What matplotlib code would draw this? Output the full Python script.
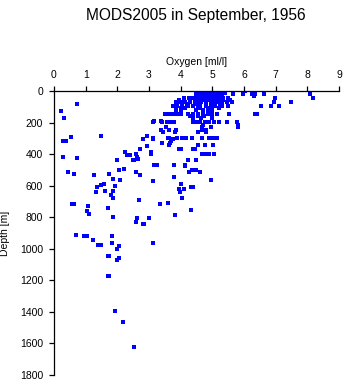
import matplotlib
matplotlib.use("Agg")
import matplotlib.pyplot as plt

plt.rcParams['font.family'] = ['Liberation Sans', 'DejaVu Sans']

title = "MODS2005 in September, 1956"
x_label = "Oxygen [ml/l]"
y_label = "Depth [m]"
x_ticks = [0, 1, 2, 3, 4, 5, 6, 7, 8, 9]
y_ticks = [0, 200, 400, 600, 800, 1000, 1200, 1400, 1600, 1800]

oxygen = [
    4.5, 4.6, 4.7, 4.8, 4.9, 5.0, 5.1, 5.2, 5.3, 5.65, 5.97, 6.03,
    4.55, 4.65, 4.75, 4.85, 4.95, 5.05, 5.15, 5.25, 5.4, 5.96,
    4.5, 4.6, 4.7, 4.8, 4.9, 5.0, 5.1, 5.2, 5.3, 5.64, 5.98, 6.24, 6.35, 6.64, 8.08,
    4.5, 4.62, 4.72, 4.84, 4.95, 5.05, 5.17, 5.27, 6.33,
    4.12, 4.25, 4.4, 4.55, 4.7, 4.85, 4.95, 5.05, 5.15, 5.25, 5.35, 5.5, 6.99, 8.19,
    3.95, 4.1, 4.3, 4.45, 4.6, 4.75, 4.9, 5.05, 5.2, 5.35, 5.55,
    3.85, 3.98, 4.15, 4.3, 4.5, 4.65, 4.8, 5.0, 5.15, 5.3, 5.45, 5.62, 6.95, 7.47,
    0.72, 3.9, 4.05, 4.2, 4.45, 4.6, 4.95, 5.1, 5.25,
    3.77, 3.9, 4.05, 4.22, 4.4, 4.55, 4.8, 4.95, 5.1, 5.3, 5.5, 6.53, 6.86, 7.12,
    3.85, 4.0, 4.15, 4.6, 4.85, 5.0, 5.2,
    3.85, 4.0, 4.5, 4.7, 4.85, 5.0,
    0.23,
    3.5, 3.62, 3.75, 3.9, 4.02, 4.24, 4.4, 4.55, 4.7, 4.85, 5.0, 5.15, 5.54, 6.35, 6.42,
    4.3, 4.55, 4.75,
    0.33, 4.4, 4.65, 5.0,
    3.13, 3.41, 3.58, 3.68, 3.8, 4.4, 4.5, 4.62, 4.78, 4.9, 5.05, 5.2, 5.46, 5.77,
    3.37, 3.17,
    5.8, 4.7,
    3.53, 4.66, 4.96, 5.82,
    3.39, 3.64, 3.84, 4.66, 4.8,
    3.45, 3.83, 4.55, 4.8,
    1.5, 2.93,
    0.53,
    3.13, 3.63, 3.89, 4.03, 4.16, 4.37, 4.66, 4.9, 5.03, 5.16, 3.61,
    2.82, 3.14, 3.77,
    0.29, 0.38, 3.68,
    3.42, 3.66,
    3.62, 4.56, 4.77, 5.03,
    2.95,
    2.73, 3.96, 4.01, 4.4, 4.45,
    2.25, 3.05,
    2.58, 3.06, 4.66, 4.77, 4.82, 4.89, 5.05,
    2.31, 2.4,
    0.29, 2.63,
    0.72,
    2.66,
    2.49, 2.53, 4.23, 4.24, 4.5,
    1.98,
    3.17, 3.24, 3.19,
    3.8, 4.14,
    4.13,
    2.21,
    2.05, 4.35, 4.4, 4.5,
    0.45, 2.58, 4.27, 4.61,
    0.64, 1.75,
    1.27,
    2.73,
    3.8,
    1.85,
    2.09, 4.97,
    3.14,
    1.59, 4.0,
    1.47,
    1.92,
    1.37, 4.32, 4.4,
    3.96, 4.1,
    1.62, 1.85,
    3.99,
    1.34,
    1.79,
    1.87, 4.05,
    2.69,
    3.61,
    0.58, 0.64, 3.35,
    1.06,
    1.69,
    4.34,
    1.03,
    1.12,
    3.83,
    1.87,
    3.01,
    2.63,
    2.60,
    2.80, 2.84,
    0.69,
    0.96, 1.05, 1.84,
    1.24,
    1.84, 3.12,
    1.40, 1.50,
    2.05,
    2.0,
    1.69, 1.73,
    2.06,
    1.98,
    1.71, 1.75,
    1.94,
    2.17,
    2.53,
]

depth = [
    3, 3, 3, 3, 3, 3, 3, 3, 3, 3, 3, 3,
    12, 12, 12, 12, 12, 12, 12, 12, 12, 12,
    22, 22, 22, 22, 22, 22, 22, 22, 22, 22, 22, 22, 22, 22, 22,
    32, 32, 32, 32, 32, 32, 32, 32, 32,
    46, 46, 46, 46, 46, 46, 46, 46, 46, 46, 46, 46, 46, 46,
    58, 58, 58, 58, 58, 58, 58, 58, 58, 58, 58,
    70, 70, 70, 70, 70, 70, 70, 70, 70, 70, 70, 70, 70, 70,
    85, 85, 85, 85, 85, 85, 85, 85, 85,
    95, 95, 95, 95, 95, 95, 95, 95, 95, 95, 95, 95, 95, 95,
    110, 110, 110, 110, 110, 110, 110,
    123, 123, 123, 123, 123, 123,
    127,
    148, 148, 148, 148, 148, 148, 148, 148, 148, 148, 148, 148, 148, 148, 148,
    160, 160, 160,
    174, 174, 174, 174,
    199, 199, 199, 199, 199, 199, 199, 199, 199, 199, 199, 199, 199, 199,
    190, 190,
    216, 216,
    227, 227, 227, 227,
    250, 250, 250, 250, 250,
    262, 262, 262, 262,
    286, 286,
    290,
    297, 297, 297, 297, 297, 297, 297, 297, 297, 297, 297,
    307, 307, 307,
    320, 320, 320,
    328, 328,
    343, 343, 343, 343,
    351,
    370, 370, 370, 370, 370,
    387, 387,
    400, 400, 400, 400, 400, 400, 400,
    404, 404,
    417, 417,
    424,
    430,
    436, 436, 436, 436, 436,
    440,
    466, 466, 466,
    472, 472,
    478,
    493,
    500, 500, 500, 500,
    516, 516, 516, 516,
    523, 523,
    533,
    535,
    544,
    559,
    565, 565,
    571,
    589, 589,
    597,
    599,
    607, 607, 607,
    618, 618,
    631, 631,
    639,
    643,
    662,
    679, 679,
    688,
    707,
    718, 718, 718,
    728,
    743,
    751,
    762,
    781,
    783,
    798,
    804,
    806,
    832,
    846, 846,
    910,
    921, 921, 921,
    942,
    961, 961,
    978, 978,
    980,
    1001,
    1048, 1048,
    1056,
    1069,
    1172, 1172,
    1393,
    1465,
    1621,
]

fig = plt.figure(figsize=(3.45, 3.84), dpi=100)
ax = fig.add_axes([0.1565, 0.0234, 0.826, 0.7396])

ax.plot(oxygen, depth, linestyle='none', marker='s', markersize=2.7,
        markerfacecolor='#0000ff', markeredgecolor='#0000ff', markeredgewidth=0)

ax.set_xlim(0, 9)
ax.set_ylim(1800, 0)
ax.set_xticks(x_ticks)
ax.set_yticks(y_ticks)
ax.xaxis.tick_top()
ax.xaxis.set_label_position('top')
for s in ['right', 'bottom']:
    ax.spines[s].set_visible(False)
for s in ['top', 'left']:
    ax.spines[s].set_linewidth(0.9)
ax.tick_params(axis='both', direction='out', length=3.8, width=0.9,
               labelsize=7.5, pad=4)
ax.set_xlabel(x_label, fontsize=7.5, labelpad=4)
ax.set_ylabel(y_label, fontsize=7.5, labelpad=7)
fig.text(0.568, 0.978, title, ha='center', va='top', fontsize=11.2)

fig.savefig("out.png", dpi=100)
